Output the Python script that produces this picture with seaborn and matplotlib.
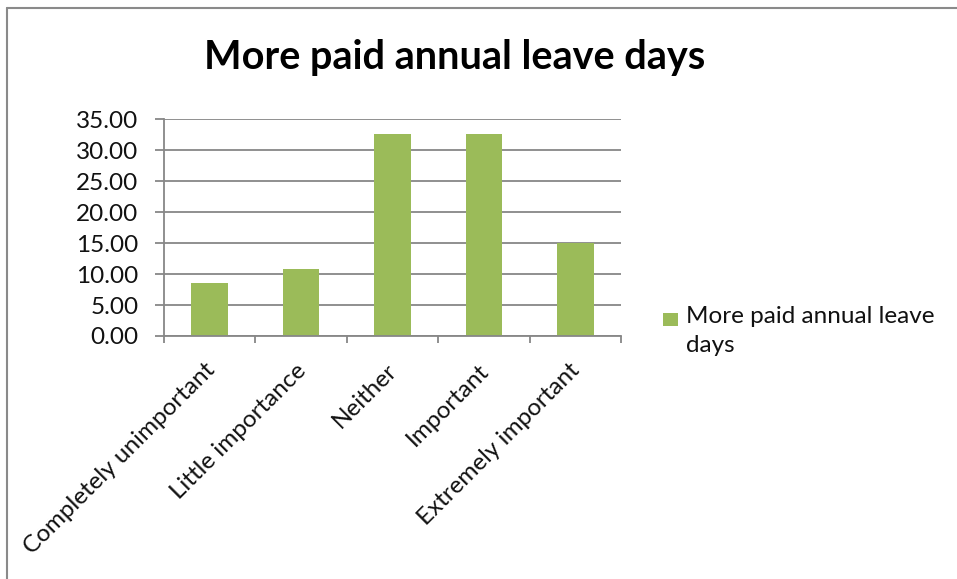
import matplotlib
matplotlib.use("Agg")
import matplotlib.pyplot as plt
import matplotlib.transforms as mtransforms
from matplotlib.lines import Line2D
from matplotlib.patches import Rectangle
import seaborn as sns
import pandas as pd

# Survey responses: share of respondents (%) per importance level
categories = ["Completely unimportant", "Little importance", "Neither",
              "Important", "Extremely important"]
values = [8.6, 10.8, 32.6, 32.6, 15.1]
series_name = "More paid annual leave days"
title = "More paid annual leave days"
y_ticks = [0, 5, 10, 15, 20, 25, 30, 35]

df = pd.DataFrame({"category": categories, "value": values})

sns.set_theme(style="white")
plt.rcParams["font.family"] = ["Lato", "DejaVu Sans"]

W, H, DPI = 957, 579, 100
fig = plt.figure(figsize=(W / DPI, H / DPI), dpi=DPI)
fig.patch.set_facecolor("white")

ax = fig.add_axes([164 / W, 1 - 336 / H, (621 - 164) / W, (336 - 119.3) / H])

bar_color = "#9BBB59"
grid_color = "#878787"
text_color = "#111111"

sns.barplot(data=df, x="category", y="value", color=bar_color,
            width=0.4, saturation=1, ax=ax, edgecolor="none")

ax.set_ylim(0, 35)
ax.set_xlim(-0.5, len(categories) - 0.5)
ax.set_yticks(y_ticks)
ax.set_yticklabels([f"{v:.2f}" for v in y_ticks], fontsize=17.5, color=text_color)
ax.yaxis.grid(True, color=grid_color, linewidth=1.3)
ax.set_axisbelow(True)
ax.set_xlabel("")
ax.set_ylabel("")

# Category labels sit between boundary tick marks
ax.set_xticks(range(len(categories)))
ax.set_xticklabels(categories, rotation=45, ha="right", va="top",
                   rotation_mode="anchor", fontsize=17.5, color=text_color)
ax.tick_params(axis="x", length=0, pad=17)
shift = mtransforms.ScaledTranslation(-0.06, 0, fig.dpi_scale_trans)
for lbl in ax.get_xticklabels():
    lbl.set_transform(lbl.get_transform() + shift)
ax.set_xticks([i - 0.5 for i in range(len(categories) + 1)], minor=True)
ax.tick_params(axis="x", which="minor", length=5, width=1.3,
               color=grid_color, direction="out", bottom=True)
ax.tick_params(axis="y", length=6.5, width=1.3, color=grid_color,
               direction="out", left=True, pad=12)

for side in ["top", "right"]:
    ax.spines[side].set_visible(False)
for side in ["left", "bottom"]:
    ax.spines[side].set_color(grid_color)
    ax.spines[side].set_linewidth(1.3)

fig.text(455 / W, 1 - 58 / H, title, ha="center", va="center",
         fontsize=28.5, fontweight="bold", color="black")

# Legend key: swatch beside the first line of the series name
fig.add_artist(Rectangle((663 / W, 1 - 326 / H), 15 / W, 13 / H,
                         facecolor=bar_color, edgecolor="none",
                         transform=fig.transFigure))
fig.text(686 / W, 1 - 306 / H, "More paid annual leave\ndays",
         ha="left", va="top", fontsize=17.5, color=text_color,
         linespacing=1.45)

# Chart area border (left and top edges)
fig.add_artist(Line2D([7 / W, 7 / W], [0, 1 - 7.5 / H], color="#8a8a8a",
                      linewidth=1.5, transform=fig.transFigure))
fig.add_artist(Line2D([7 / W, 1], [1 - 7.5 / H, 1 - 7.5 / H], color="#8a8a8a",
                      linewidth=1.5, transform=fig.transFigure))

fig.savefig("out.png", dpi=DPI, facecolor="white")
